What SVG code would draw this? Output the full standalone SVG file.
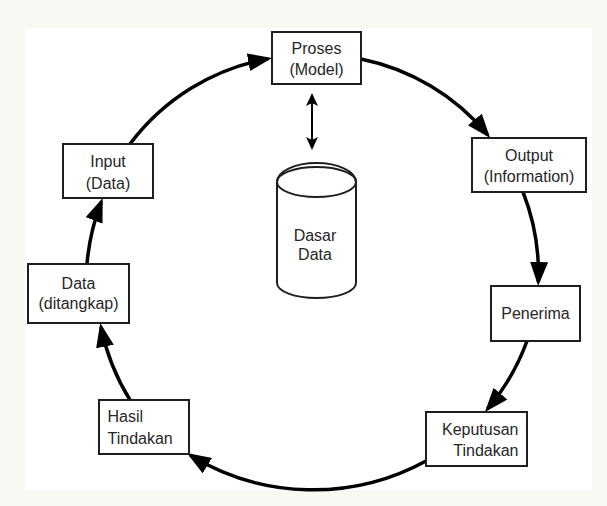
<svg xmlns="http://www.w3.org/2000/svg" width="607" height="506" viewBox="0 0 607 506">
  <defs>
    <style>
      .box { fill: #ffffff; stroke: #1e1e1e; stroke-width: 2; }
      .lbl { font-family: "Liberation Sans", Arial, sans-serif; font-size: 16px; fill: #262626; }
      .mid { text-anchor: middle; }
      .end { text-anchor: end; }
      .flow { fill: none; stroke: #000000; stroke-width: 3.5; marker-end: url(#bigArrow); }
      .cyl { fill: #ffffff; stroke: #1e1e1e; stroke-width: 2; }
    </style>
    <marker id="bigArrow" markerUnits="userSpaceOnUse" markerWidth="26" markerHeight="20" refX="20" refY="9" orient="auto">
      <path d="M0,0 L24,9 L0,18 z" fill="#000000"/>
    </marker>
    <marker id="smallArrow" markerUnits="userSpaceOnUse" markerWidth="16" markerHeight="14" refX="11" refY="6" orient="auto-start-reverse">
      <path d="M0,0 L13,6 L0,12 L3,6 z" fill="#000000"/>
    </marker>
  </defs>

  <rect x="0" y="0" width="607" height="506" fill="#f9f9f4"/>
  <rect x="25" y="28" width="567" height="462" fill="#ffffff"/>

  <g id="connectors">
    <path class="flow" d="M130,144 A222,222 0 0 1 268.1,58.7"/>
    <path class="flow" d="M361,59 A222,222 0 0 1 487.6,134.8"/>
    <path class="flow" d="M523,192 A222,222 0 0 1 538.3,282"/>
    <path class="flow" d="M527,341 A222,222 0 0 1 487.5,408.9"/>
    <path class="flow" d="M426,461 A235,235 0 0 1 190.3,455.2"/>
    <path class="flow" d="M130,400 A222,222 0 0 1 101,326.9"/>
    <path class="flow" d="M87,264 A222,222 0 0 1 101.3,201.8"/>
    <line x1="312" y1="95" x2="312" y2="148" stroke="#000000" stroke-width="2" marker-start="url(#smallArrow)" marker-end="url(#smallArrow)"/>
  </g>

  <g id="proses">
    <rect class="box" x="272" y="32" width="89" height="52"/>
    <text class="lbl mid" x="316.5" y="54">Proses</text>
    <text class="lbl mid" x="316.5" y="75">(Model)</text>
  </g>

  <g id="output">
    <rect class="box" x="472" y="138" width="114" height="54"/>
    <text class="lbl mid" x="529" y="160.5">Output</text>
    <text class="lbl mid" x="529" y="182">(Information)</text>
  </g>

  <g id="penerima">
    <rect class="box" x="491" y="286" width="89" height="55"/>
    <text class="lbl mid" x="535.5" y="319">Penerima</text>
  </g>

  <g id="keputusan">
    <rect class="box" x="426" y="412" width="101" height="54"/>
    <text class="lbl end" x="518.5" y="434.5">Keputusan</text>
    <text class="lbl end" x="518.5" y="455.5">Tindakan</text>
  </g>

  <g id="hasil">
    <rect class="box" x="99" y="400" width="90" height="54"/>
    <text class="lbl" x="107.5" y="422">Hasil</text>
    <text class="lbl" x="107.5" y="443.5">Tindakan</text>
  </g>

  <g id="data-ditangkap">
    <rect class="box" x="28" y="264" width="101" height="59"/>
    <text class="lbl mid" x="78.5" y="289">Data</text>
    <text class="lbl mid" x="78.5" y="309">(ditangkap)</text>
  </g>

  <g id="input">
    <rect class="box" x="63" y="144" width="90" height="54"/>
    <text class="lbl mid" x="108" y="167">Input</text>
    <text class="lbl mid" x="108" y="188.5">(Data)</text>
  </g>

  <g id="dasar-data">
    <path class="cyl" d="M277,182 L277,283 A39.5,15 0 0 0 356,283 L356,182"/>
    <ellipse class="cyl" cx="316.5" cy="182" rx="39.5" ry="15"/>
    <path d="M277,182 A39.5,19 0 0 1 356,182" fill="none" stroke="#1e1e1e" stroke-width="2"/>
    <text class="lbl mid" x="315" y="240.5">Dasar</text>
    <text class="lbl mid" x="315" y="259.5">Data</text>
  </g>
</svg>
